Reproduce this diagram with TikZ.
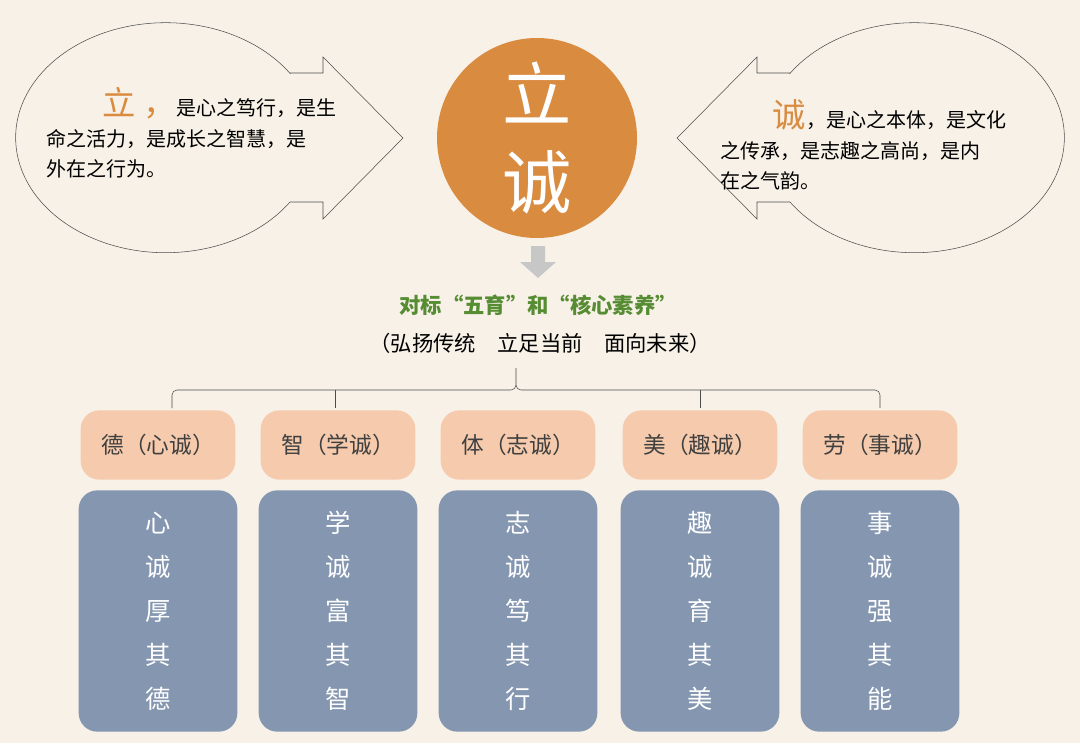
\documentclass[tikz,border=0pt]{standalone}
\usepackage{fontspec}
\setmainfont{Noto Sans CJK SC}
\definecolor{bgcream}{RGB}{247,241,232}
\definecolor{chengorange}{RGB}{217,139,64}
\definecolor{headpink}{RGB}{246,202,172}
\definecolor{colslate}{RGB}{132,150,176}
\definecolor{leafgreen}{RGB}{86,140,50}
\tikzset{
	head/.style={fill=headpink,rounded corners=14pt,minimum width=116pt,minimum height=52pt,font=\fontsize{17}{17}\selectfont,text=black!75},
	col/.style={fill=colslate,rounded corners=14pt,minimum width=119pt,minimum height=181pt,text=white,font=\fontsize{19}{33}\selectfont,align=center},
	bubble/.style={draw=black!70,fill=bgcream,thin}
}
\begin{document}
\begin{tikzpicture}[x=0.75pt,y=-0.75pt]
	\fill[bgcream] (0,0) rectangle (1080,743);
	\useasboundingbox (0,0) rectangle (1080,743);
	%left bubble
	\draw[bubble] (290,73) -- (323,73) -- (323,57) -- (403,138) -- (323,219) -- (323,202) -- (290,202)
		arc[start angle=34,end angle=326,x radius=150,y radius=115] -- cycle;
	\node[anchor=west,align=left,font=\fontsize{15}{23}\selectfont] (litext) at (42,133)
		{\hspace{2.8em}{\color{chengorange}\fontsize{25}{23}\selectfont 立 ，}是心之笃行，是生\\命之活力，是成长之智慧，是\\外在之行为。};
	%right bubble
	\draw[bubble] (790,73) -- (757,73) -- (757,57) -- (677,138) -- (757,219) -- (757,202) -- (790,202)
		arc[start angle=146,end angle=-146,x radius=150,y radius=115] -- cycle;
	\node[anchor=west,align=left,font=\fontsize{15}{23}\selectfont] (chengtext) at (716,145)
		{\hspace{2.6em}{\color{chengorange}\fontsize{25}{23}\selectfont 诚}，是心之本体，是文化\\之传承，是志趣之高尚，是内\\在之气韵。};
	%centre
	\node[circle,fill=chengorange,minimum size=150pt,text=white,font=\fontsize{52}{66}\selectfont,align=center] (core) at (537,138) {立\\诚};
	\fill[black!22] (531,246) -- (545,246) -- (545,262) -- (556,262) -- (538,278) -- (520,262) -- (531,262) -- cycle;
	\node[text=leafgreen,font=\fontsize{16}{16}\selectfont\bfseries] (aim) at (538,305) {对标“五育”和“核心素养”};
	\node[font=\fontsize{16}{16}\selectfont] (motto) at (540,343) {（弘扬传统\quad 立足当前\quad 面向未来）};
	%brace
	\draw[black!70] (172,408) -- (172,395) arc[start angle=180,end angle=270,radius=5] -- (511,390)
		arc[start angle=90,end angle=0,radius=5] -- (516,368) (516,385)
		arc[start angle=180,end angle=90,radius=5] -- (875,390)
		arc[start angle=270,end angle=360,radius=5] -- (880,408);
	\draw[black!70] (335,390) -- (335,408) (700,390) -- (700,408);
	%columns
	\foreach \x/\h/\c [count=\i] in {158/德（心诚）/心\\诚\\厚\\其\\德,
		338/智（学诚）/学\\诚\\富\\其\\智,
		518/体（志诚）/志\\诚\\笃\\其\\行,
		700/美（趣诚）/趣\\诚\\育\\其\\美,
		880/劳（事诚）/事\\诚\\强\\其\\能}{
		\node[head] (h\i) at (\x,445) {\h};
		\node[col] (c\i) at (\x,611) {\c};
	}
\end{tikzpicture}
\end{document}
